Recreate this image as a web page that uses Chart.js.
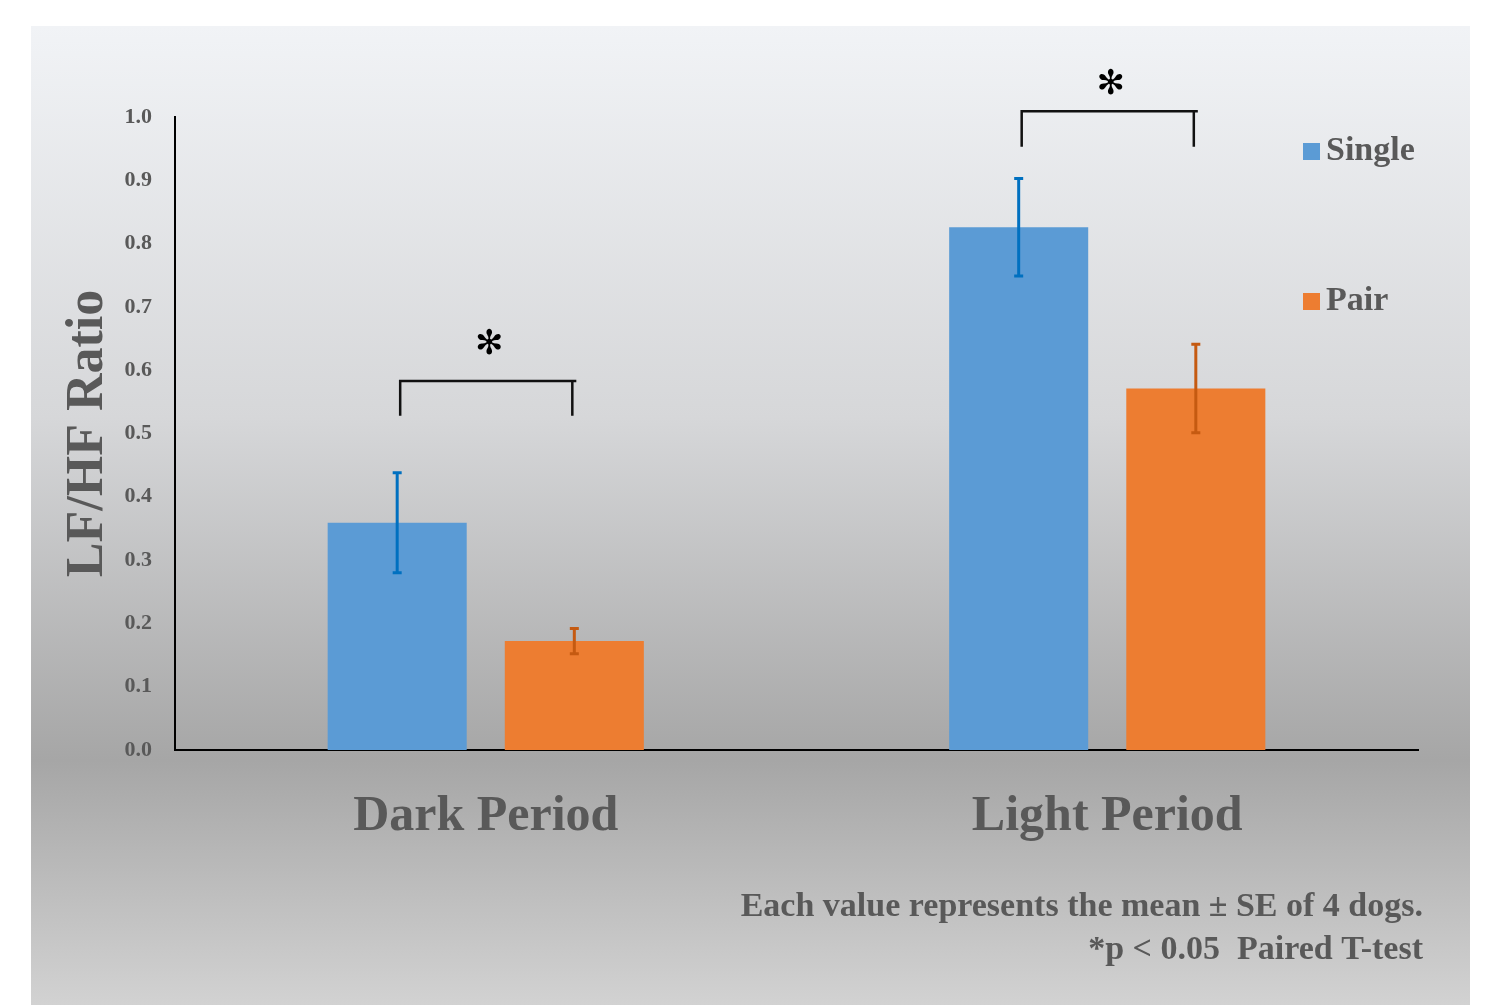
<!DOCTYPE html>
<html lang="en">
<head>
<meta charset="UTF-8">
<title>LF/HF Ratio</title>
<script src="https://cdn.jsdelivr.net/npm/chart.js"></script>
<style>
  body { margin:0; background:#ffffff; }
  #wrap { width:1492px; height:1005px; }
</style>
</head>
<body>
<div id="wrap"><canvas id="hrvChart" width="1492" height="1005"></canvas></div>
<script>
// data
const categories = ['Dark Period', 'Light Period'];
const seriesNames = ['Single', 'Pair'];
const singleMean = [0.359, 0.826];
const singleSE   = [0.079, 0.077];
const pairMean   = [0.172, 0.571];
const pairSE     = [0.020, 0.070];
// significance brackets (y in data units) and star position
const bracketTop  = [0.583, 1.009];
const bracketFoot = [0.528, 0.953];
const starLevel   = [0.640, 1.051];
const starText    = '✻';
const footnote = ['Each value represents the mean ± SE of 4 dogs.', '*p < 0.05  Paired T-test'];

const SERIF = "'Liberation Serif','Times New Roman',serif";
const TXT = '#595959';
const errColors = ['#0070c0', '#c55a11'];

// gray office-style panel behind everything
const panelBg = {
  id: 'panelBg',
  beforeDraw(chart) {
    const ctx = chart.ctx;
    const g = ctx.createLinearGradient(0, 26, 0, 1005);
    g.addColorStop(0, '#f1f3f6');
    g.addColorStop(0.4, '#d6d7d9');
    g.addColorStop(0.75, '#a6a6a6');
    g.addColorStop(1, '#d2d2d2');
    ctx.save();
    ctx.fillStyle = g;
    ctx.fillRect(31, 26, 1439, 979);
    ctx.restore();
  }
};

// error bars + brackets + legend + footnote
const extras = {
  id: 'extras',
  afterDatasetsDraw(chart) {
    const ctx = chart.ctx;
    const y = chart.scales.y;
    const ses = [singleSE, pairSE];
    ctx.save();
    chart.data.datasets.forEach((ds, i) => {
      const meta = chart.getDatasetMeta(i);
      meta.data.forEach((bar, j) => {
        const top = y.getPixelForValue(ds.data[j] + ses[i][j]);
        const bot = y.getPixelForValue(ds.data[j] - ses[i][j]);
        ctx.strokeStyle = errColors[i];
        ctx.lineWidth = 3;
        ctx.beginPath();
        ctx.moveTo(bar.x, top); ctx.lineTo(bar.x, bot);
        ctx.moveTo(bar.x - 4.5, top); ctx.lineTo(bar.x + 4.5, top);
        ctx.moveTo(bar.x - 4.5, bot); ctx.lineTo(bar.x + 4.5, bot);
        ctx.stroke();
      });
    });

    // brackets with stars
    const m0 = chart.getDatasetMeta(0).data;
    const m1 = chart.getDatasetMeta(1).data;
    categories.forEach((c, j) => {
      const x1 = m0[j].x + 3, x2 = m1[j].x - 2;
      const yt = y.getPixelForValue(bracketTop[j]);
      const yb = y.getPixelForValue(bracketFoot[j]);
      ctx.strokeStyle = '#111111';
      ctx.lineWidth = 2.5;
      ctx.beginPath();
      ctx.moveTo(x1, yb); ctx.lineTo(x1, yt); ctx.lineTo(x2 + 4, yt);
      ctx.moveTo(x2, yt); ctx.lineTo(x2, yb);
      ctx.stroke();
      ctx.fillStyle = '#000000';
      ctx.font = "bold 34px 'DejaVu Sans'";
      ctx.textAlign = 'center';
      ctx.textBaseline = 'middle';
      ctx.fillText(starText, (x1 + x2) / 2 + 3, y.getPixelForValue(starLevel[j]));
    });

    // legend on the right
    chart.data.datasets.forEach((ds, i) => {
      const cy = 151 + i * 150;
      ctx.fillStyle = ds.backgroundColor;
      ctx.fillRect(1303, cy - 8, 17, 17);
      ctx.fillStyle = TXT;
      ctx.font = 'bold 34px ' + SERIF;
      ctx.textAlign = 'left';
      ctx.textBaseline = 'middle';
      ctx.fillText(ds.label, 1326, cy);
    });

    // footnote
    ctx.fillStyle = TXT;
    ctx.font = 'bold 34px ' + SERIF;
    ctx.textAlign = 'right';
    ctx.textBaseline = 'alphabetic';
    ctx.fillText(footnote[0], 1423, 916);
    ctx.fillText(footnote[1], 1423, 959);
    ctx.restore();
  }
};

new Chart(document.getElementById('hrvChart'), {
  type: 'bar',
  data: {
    labels: categories,
    datasets: [
      { label: seriesNames[0], data: singleMean, backgroundColor: '#5b9bd5' },
      { label: seriesNames[1], data: pairMean, backgroundColor: '#ed7d31' }
    ]
  },
  options: {
    responsive: false,
    animation: false,
    devicePixelRatio: 1,
    layout: { padding: { left: 53, top: 117, right: 74, bottom: 155 } },
    datasets: { bar: { barPercentage: 0.785, categoryPercentage: 0.57 } },
    plugins: { legend: { display: false }, tooltip: { enabled: false } },
    scales: {
      x: {
        grid: { display: false },
        border: { display: true, color: '#000000', width: 2 },
        ticks: { color: TXT, padding: 29, font: { family: SERIF, size: 50, weight: 'bold' } },
        afterFit(scale) { scale.height = 100; }
      },
      y: {
        min: 0,
        max: 1,
        grid: { display: false, drawTicks: false },
        border: { display: true, color: '#000000', width: 2 },
        ticks: {
          stepSize: 0.1,
          padding: 23,
          color: TXT,
          font: { family: SERIF, size: 22, weight: 'bold' },
          callback: v => v.toFixed(1)
        },
        title: {
          display: true,
          text: 'LF/HF Ratio',
          color: TXT,
          padding: { top: 4, bottom: 4 },
          font: { family: SERIF, size: 52, weight: 'bold' }
        },
        afterFit(scale) { scale.width = 122; }
      }
    }
  },
  plugins: [panelBg, extras]
});
</script>
</body>
</html>
